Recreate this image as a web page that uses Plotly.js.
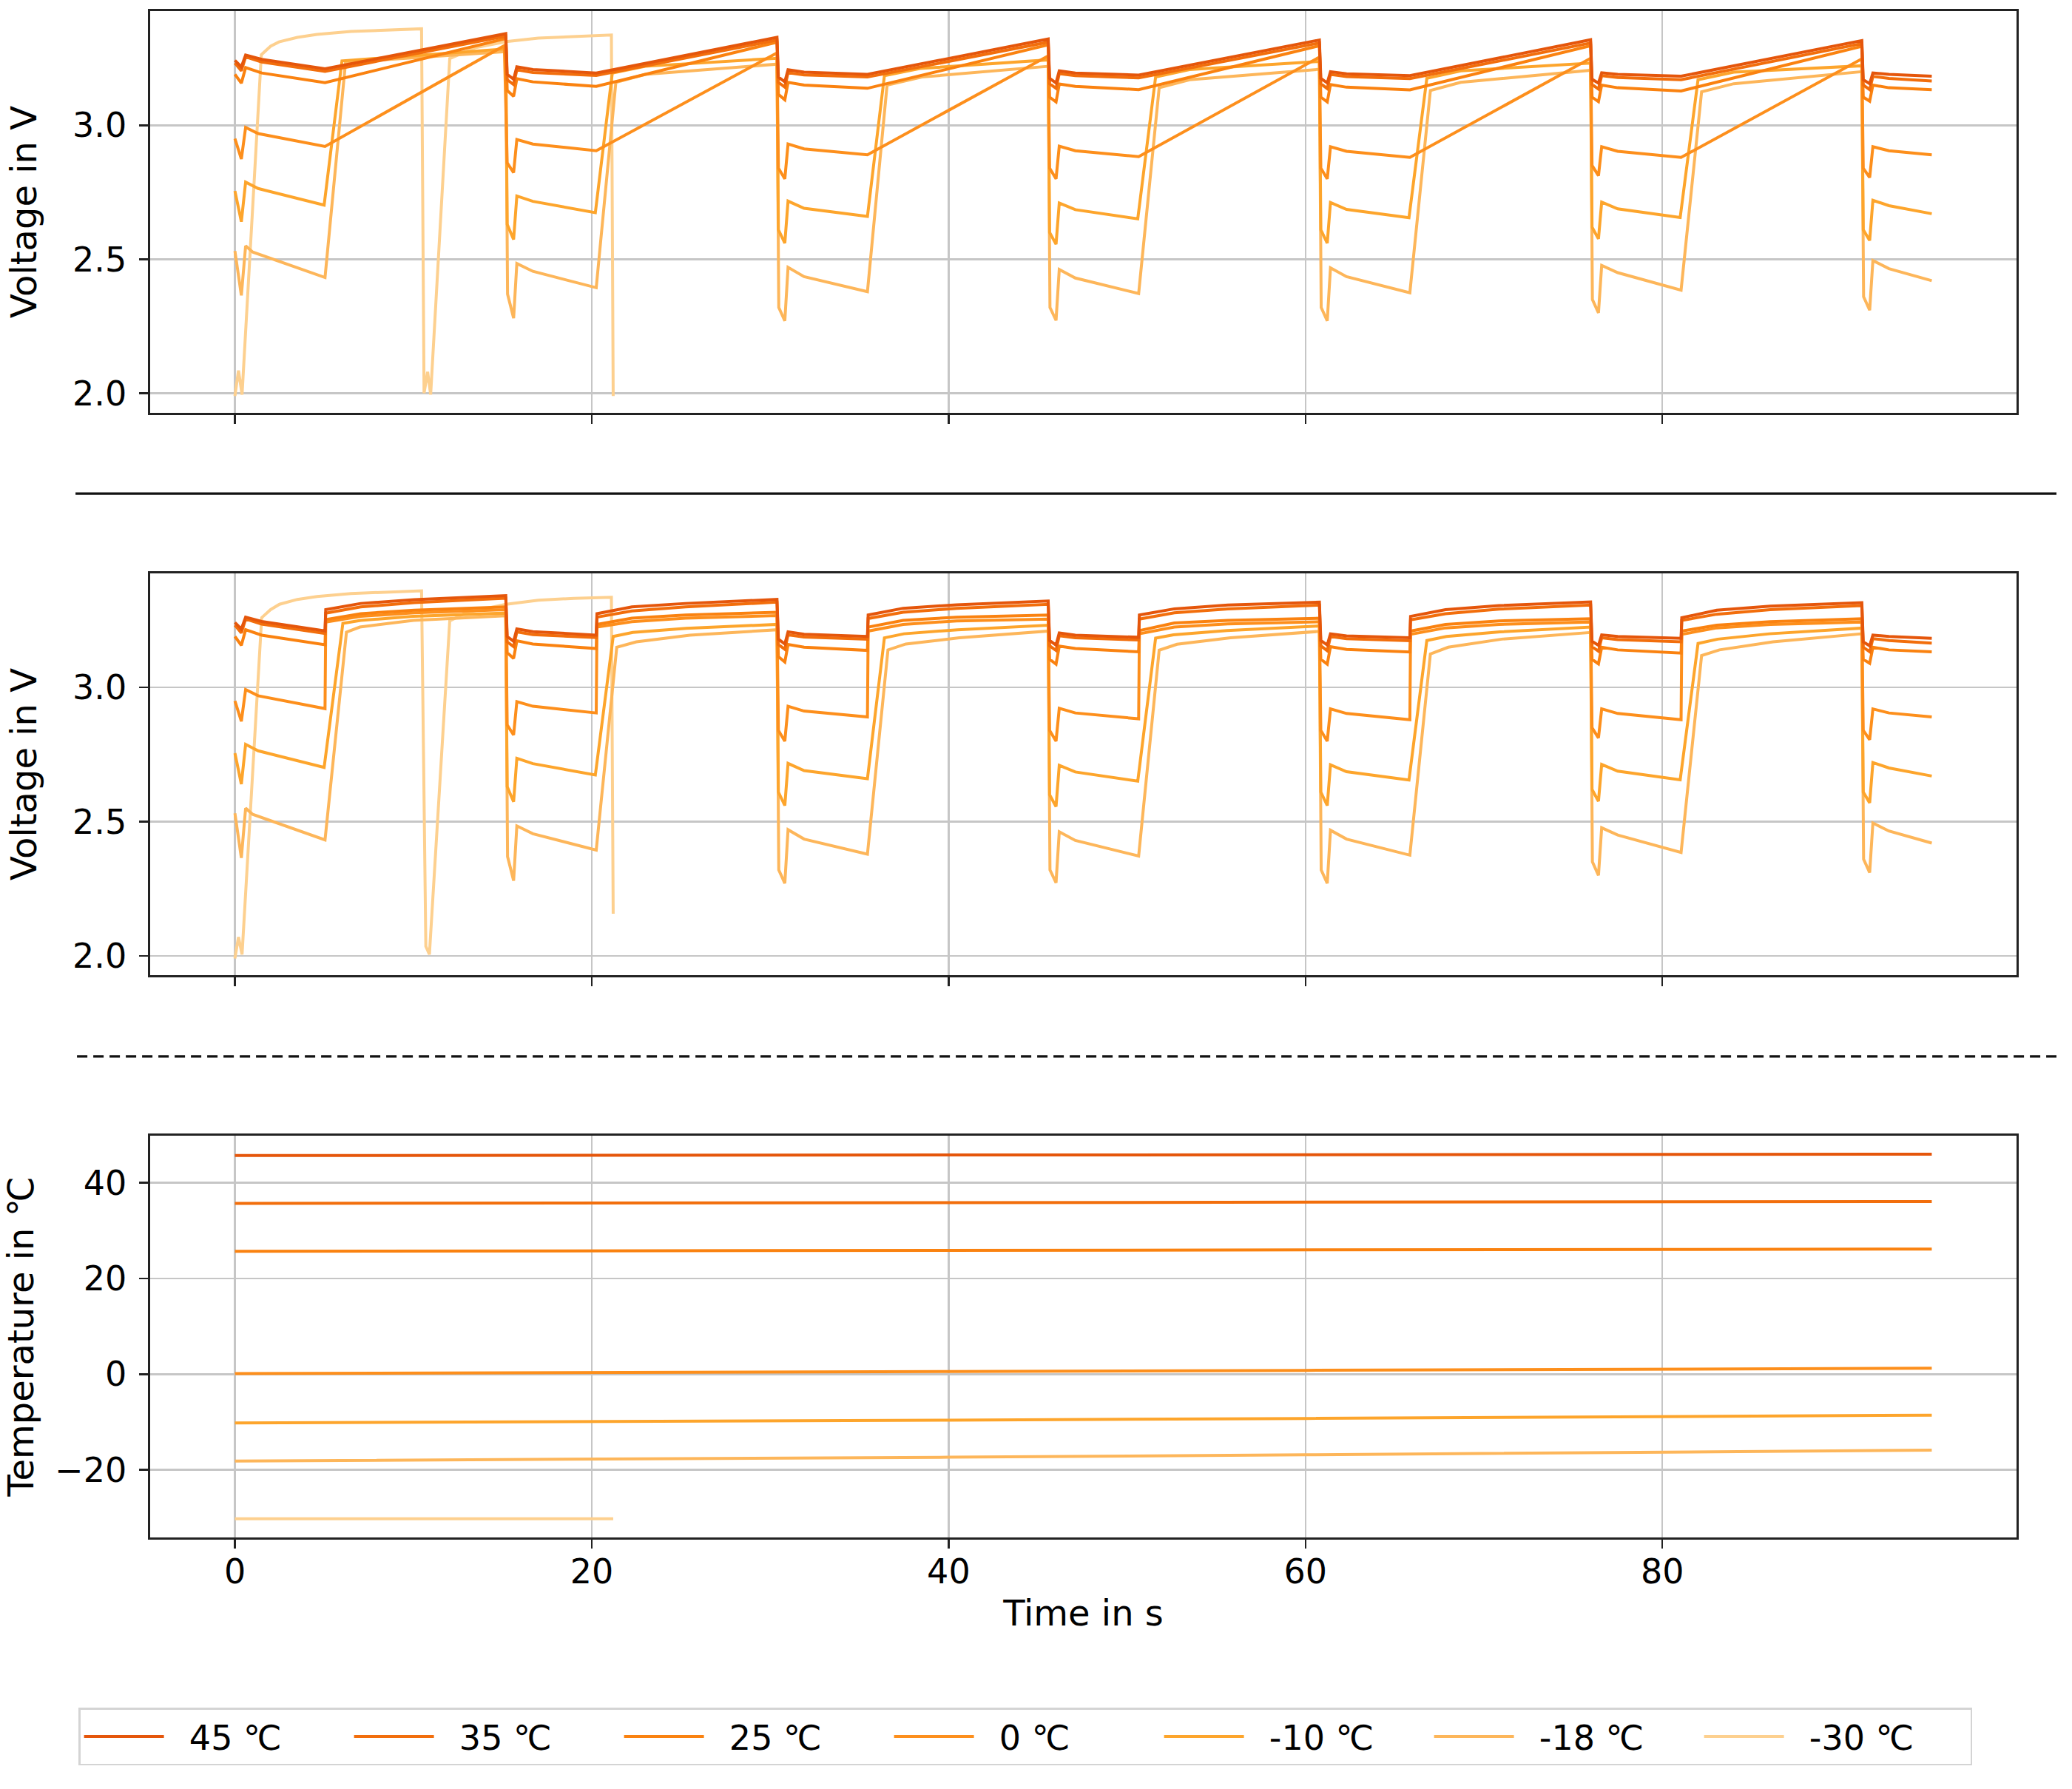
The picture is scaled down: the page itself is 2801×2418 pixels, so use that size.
<!DOCTYPE html>
<html>
<head>
<meta charset="utf-8">
<script src="https://cdn.plot.ly/plotly-3.0.1.min.js"></script>
<style>html,body{margin:0;padding:0;background:#fff;}#chart{width:2801px;height:2418px;}</style>
</head>
<body>
<div id="chart"></div>
<script>
// ---------------- DATA ----------------
const seriesNames = ["45 ℃", "35 ℃", "25 ℃", "0 ℃", "-10 ℃", "-18 ℃", "-30 ℃"];
const seriesColors = ["#e5560b", "#f26e0c", "#fa8210", "#fd8f1c", "#fda52c", "#fdb65a", "#fdd08f"];

// discharge segments (one per pulse cycle), [time s, voltage V]
const dis45 = [
  [[0,3.242],[0.36,3.218],[0.6,3.262],[1.5,3.246],[5.05,3.211]],
  [[15.26,3.19],[15.62,3.172],[15.8,3.218],[16.7,3.208],[20.25,3.195]],
  [[30.46,3.18],[30.82,3.162],[31.0,3.207],[31.9,3.198],[35.45,3.19]],
  [[45.66,3.175],[46.02,3.158],[46.2,3.203],[47.1,3.195],[50.65,3.187]],
  [[60.86,3.175],[61.22,3.158],[61.4,3.2],[62.3,3.192],[65.85,3.185]],
  [[76.06,3.172],[76.42,3.157],[76.6,3.196],[77.5,3.19],[81.05,3.183]],
  [[91.26,3.17],[91.62,3.155],[91.8,3.195],[92.7,3.19],[95.1,3.183]]
];
const dis35 = [
  [[0,3.232],[0.36,3.203],[0.6,3.255],[1.5,3.236],[5.05,3.201]],
  [[15.26,3.17],[15.62,3.152],[15.8,3.207],[16.7,3.197],[20.25,3.186]],
  [[30.46,3.16],[30.82,3.142],[31.0,3.196],[31.9,3.188],[35.45,3.18]],
  [[45.66,3.155],[46.02,3.138],[46.2,3.193],[47.1,3.185],[50.65,3.177]],
  [[60.86,3.155],[61.22,3.137],[61.4,3.19],[62.3,3.182],[65.85,3.174]],
  [[76.06,3.152],[76.42,3.135],[76.6,3.185],[77.5,3.178],[81.05,3.17]],
  [[91.26,3.15],[91.62,3.133],[91.8,3.182],[92.7,3.175],[95.1,3.165]]
];
const dis25 = [
  [[0,3.19],[0.36,3.157],[0.6,3.215],[1.5,3.195],[5.05,3.159]],
  [[15.26,3.13],[15.62,3.108],[15.8,3.174],[16.7,3.162],[20.25,3.145]],
  [[30.46,3.115],[30.82,3.095],[31.0,3.16],[31.9,3.15],[35.45,3.138]],
  [[45.66,3.105],[46.02,3.087],[46.2,3.154],[47.1,3.145],[50.65,3.133]],
  [[60.86,3.105],[61.22,3.087],[61.4,3.152],[62.3,3.142],[65.85,3.132]],
  [[76.06,3.105],[76.42,3.088],[76.6,3.15],[77.5,3.14],[81.05,3.128]],
  [[91.26,3.105],[91.62,3.09],[91.8,3.15],[92.7,3.14],[95.1,3.133]]
];
const dis0 = [
  [[0,2.95],[0.36,2.874],[0.6,2.992],[1.3,2.969],[5.05,2.921]],
  [[15.26,2.86],[15.62,2.823],[15.8,2.947],[16.7,2.93],[20.25,2.905]],
  [[30.46,2.84],[30.82,2.80],[31.0,2.93],[31.9,2.912],[35.45,2.89]],
  [[45.66,2.84],[46.02,2.80],[46.2,2.922],[47.1,2.905],[50.65,2.883]],
  [[60.86,2.84],[61.22,2.80],[61.4,2.92],[62.3,2.903],[65.85,2.88]],
  [[76.06,2.85],[76.42,2.812],[76.6,2.92],[77.5,2.903],[81.05,2.88]],
  [[91.26,2.84],[91.62,2.805],[91.8,2.92],[92.7,2.905],[95.1,2.89]]
];
const disM10 = [
  [[0,2.755],[0.36,2.64],[0.6,2.788],[1.3,2.764],[5.0,2.702]],
  [[15.26,2.63],[15.62,2.574],[15.8,2.736],[16.7,2.716],[20.2,2.674]],
  [[30.46,2.61],[30.82,2.56],[31.0,2.717],[31.9,2.69],[35.45,2.66]],
  [[45.66,2.60],[46.02,2.556],[46.2,2.71],[47.1,2.685],[50.6,2.651]],
  [[60.86,2.61],[61.22,2.56],[61.4,2.712],[62.3,2.686],[65.8,2.655]],
  [[76.06,2.62],[76.42,2.576],[76.6,2.713],[77.5,2.688],[81.0,2.656]],
  [[91.26,2.61],[91.62,2.57],[91.8,2.72],[92.7,2.70],[95.1,2.67]]
];
const disM18 = [
  [[0,2.531],[0.36,2.365],[0.6,2.55],[1.0,2.527],[5.05,2.432]],
  [[15.28,2.37],[15.62,2.28],[15.8,2.484],[16.7,2.455],[20.25,2.394]],
  [[30.48,2.32],[30.82,2.27],[31.0,2.47],[31.9,2.435],[35.45,2.379]],
  [[45.68,2.32],[46.02,2.272],[46.2,2.462],[47.1,2.43],[50.65,2.372]],
  [[60.88,2.32],[61.22,2.27],[61.4,2.468],[62.3,2.435],[65.85,2.375]],
  [[76.08,2.35],[76.42,2.30],[76.6,2.477],[77.5,2.45],[81.05,2.385]],
  [[91.28,2.36],[91.62,2.31],[91.8,2.495],[92.7,2.465],[95.1,2.42]]
];

// charge segments, upper panel (after each discharge, ending at the next peak)
const chgTop45 = [[[15.18,3.342]],[[30.38,3.328]],[[45.58,3.322]],[[60.78,3.318]],[[75.98,3.319]],[[91.18,3.316]]];
const chgTop35 = [[[15.18,3.333]],[[30.38,3.318]],[[45.58,3.31]],[[60.78,3.307]],[[75.98,3.307]],[[91.18,3.305]]];
const chgTop25 = [[[15.18,3.324]],[[30.38,3.31]],[[45.58,3.30]],[[60.78,3.297]],[[75.98,3.297]],[[91.18,3.295]]];
const chgTop0  = [[[15.1,3.297]],[[30.38,3.27]],[[45.58,3.259]],[[60.78,3.254]],[[75.98,3.25]],[[91.18,3.248]]];
const chgTopM10 = [
  [[6.0,3.24],[15.18,3.285]],
  [[21.15,3.195],[23.0,3.22],[30.38,3.25]],
  [[36.4,3.185],[38.4,3.212],[45.58,3.244]],
  [[51.6,3.18],[53.5,3.208],[60.78,3.238]],
  [[66.8,3.175],[68.7,3.203],[75.98,3.232]],
  [[82.0,3.17],[84.0,3.198],[91.18,3.222]]
];
const chgTopM18 = [
  [[6.2,3.235],[15.18,3.275]],
  [[21.35,3.16],[23.0,3.19],[30.38,3.228]],
  [[36.55,3.15],[38.5,3.18],[45.58,3.22]],
  [[51.8,3.14],[53.5,3.17],[60.78,3.209]],
  [[67.0,3.13],[68.7,3.16],[75.98,3.205]],
  [[82.2,3.125],[84.0,3.155],[91.18,3.20]]
];

// charge segments, middle panel
const chgMid45 = [
  [[5.09,3.29],[7.05,3.313],[10.05,3.327],[15.18,3.342]],
  [[20.29,3.275],[22.25,3.30],[25.25,3.313],[30.38,3.328]],
  [[35.49,3.27],[37.45,3.295],[40.45,3.308],[45.58,3.322]],
  [[50.69,3.27],[52.65,3.293],[55.65,3.307],[60.78,3.318]],
  [[65.89,3.265],[67.85,3.29],[70.85,3.305],[75.98,3.319]],
  [[81.09,3.26],[83.05,3.288],[86.05,3.303],[91.18,3.316]]
];
const chgMid35 = [
  [[5.09,3.277],[7.05,3.30],[10.05,3.316],[15.18,3.333]],
  [[20.29,3.262],[22.25,3.285],[25.25,3.30],[30.38,3.318]],
  [[35.49,3.257],[37.45,3.28],[40.45,3.295],[45.58,3.31]],
  [[50.69,3.255],[52.65,3.278],[55.65,3.293],[60.78,3.307]],
  [[65.89,3.252],[67.85,3.275],[70.85,3.292],[75.98,3.307]],
  [[81.09,3.25],[83.05,3.273],[86.05,3.29],[91.18,3.305]]
];
const chgMid25 = [
  [[5.09,3.253],[7.05,3.275],[10.05,3.288],[15.18,3.30]],
  [[20.29,3.235],[22.25,3.258],[25.25,3.27],[30.38,3.28]],
  [[35.49,3.225],[37.45,3.25],[40.45,3.262],[45.58,3.27]],
  [[50.69,3.212],[52.65,3.24],[55.65,3.25],[60.78,3.258]],
  [[65.89,3.21],[67.85,3.235],[70.85,3.248],[75.98,3.256]],
  [[81.09,3.21],[83.05,3.232],[86.05,3.245],[91.18,3.256]]
];
const chgMid0 = [
  [[5.09,3.244],[7.05,3.265],[10.05,3.278],[15.18,3.29]],
  [[20.29,3.225],[22.25,3.245],[25.25,3.258],[30.38,3.268]],
  [[35.49,3.21],[37.45,3.235],[40.45,3.248],[45.58,3.255]],
  [[50.69,3.20],[52.65,3.225],[55.65,3.237],[60.78,3.245]],
  [[65.89,3.198],[67.85,3.222],[70.85,3.235],[75.98,3.244]],
  [[81.09,3.198],[83.05,3.222],[86.05,3.235],[91.18,3.244]]
];
const chgMidM10 = [
  [[6.05,3.239],[7.05,3.25],[10.0,3.265],[15.18,3.277]],
  [[21.2,3.19],[22.3,3.205],[25.3,3.22],[30.38,3.235]],
  [[36.4,3.185],[37.5,3.2],[40.5,3.215],[45.58,3.232]],
  [[51.6,3.184],[52.6,3.196],[55.6,3.212],[60.78,3.229]],
  [[66.8,3.175],[67.9,3.19],[70.9,3.207],[75.98,3.225]],
  [[82.0,3.164],[83.1,3.18],[86.0,3.2],[91.18,3.221]]
];
const chgMidM18 = [
  [[6.25,3.206],[7.0,3.225],[10.0,3.25],[15.18,3.267]],
  [[21.4,3.15],[22.5,3.17],[25.5,3.195],[30.38,3.215]],
  [[36.6,3.14],[37.6,3.162],[40.6,3.185],[45.58,3.21]],
  [[51.8,3.139],[52.8,3.161],[55.8,3.185],[60.78,3.209]],
  [[67.0,3.125],[68.0,3.15],[71.0,3.18],[75.98,3.205]],
  [[82.2,3.119],[83.2,3.14],[86.2,3.17],[91.18,3.20]]
];

// -30 ℃ runs only until cut-off
const topM30 = [[0,1.99],[0.2,2.085],[0.4,1.995],[1.48,3.263],[2.0,3.295],[2.47,3.311],[3.5,3.328],[4.6,3.339],[6.5,3.35],[8.16,3.355],[10.46,3.36],[10.6,2.0],[10.8,2.08],[10.97,1.995],[12.04,3.249],[13.5,3.29],[15.2,3.312],[17.0,3.325],[19.0,3.332],[21.1,3.337],[21.2,1.99]];
const midM30 = [[0,1.99],[0.2,2.07],[0.4,2.005],[1.5,3.26],[2.0,3.29],[2.5,3.31],[3.5,3.328],[4.6,3.339],[6.5,3.35],[8.2,3.355],[10.46,3.36],[10.7,2.035],[10.9,2.005],[12.04,3.248],[13.0,3.28],[15.2,3.31],[17.0,3.325],[19.0,3.332],[21.1,3.336],[21.2,2.157]];

// temperatures, [time s, temperature ℃]
const temp45 = [[0,45.66],[20,45.7],[40,45.75],[60,45.82],[80,45.88],[95.1,45.93]];
const temp35 = [[0,35.66],[20,35.72],[40,35.82],[60,35.9],[80,36.0],[95.1,36.07]];
const temp25 = [[0,25.66],[20,25.72],[40,25.8],[60,25.92],[80,26.05],[95.1,26.14]];
const temp0  = [[0,0.14],[20,0.3],[40,0.55],[60,0.8],[80,1.05],[95.1,1.24]];
const tempM10 = [[0,-10.2],[20,-9.95],[40,-9.6],[60,-9.25],[80,-8.85],[95.1,-8.55]];
const tempM18 = [[0,-18.14],[20,-17.8],[40,-17.35],[60,-16.85],[80,-16.3],[95.1,-15.86]];
const tempM30 = [[0,-30.2],[21.2,-30.2]];

const xTicks = [0, 20, 40, 60, 80];

// ---------------- BUILD ----------------
function join(dis, chg) {
  const pts = [];
  dis.forEach((seg, k) => { pts.push(...seg); if (chg[k]) pts.push(...chg[k]); });
  return pts;
}
const topSeries = [
  join(dis45, chgTop45), join(dis35, chgTop35), join(dis25, chgTop25), join(dis0, chgTop0),
  join(disM10, chgTopM10), join(disM18, chgTopM18), topM30
];
const midSeries = [
  join(dis45, chgMid45), join(dis35, chgMid35), join(dis25, chgMid25), join(dis0, chgMid0),
  join(disM10, chgMidM10), join(disM18, chgMidM18), midM30
];
const tempSeries = [temp45, temp35, temp25, temp0, tempM10, tempM18, tempM30];

const LW = 4;
const NB = '\u00a0\u00a0';
const traces = [];
for (let i = seriesNames.length - 1; i >= 0; i--) {
  const c = seriesColors[i];
  const nm = NB + seriesNames[i];
  traces.push({x: topSeries[i].map(p => p[0]), y: topSeries[i].map(p => p[1]), xaxis: 'x', yaxis: 'y',
    mode: 'lines', line: {color: c, width: LW}, name: nm, legendgroup: seriesNames[i],
    showlegend: true, legendrank: i + 1, hoverinfo: 'skip'});
  traces.push({x: midSeries[i].map(p => p[0]), y: midSeries[i].map(p => p[1]), xaxis: 'x2', yaxis: 'y2',
    mode: 'lines', line: {color: c, width: LW}, name: nm, legendgroup: seriesNames[i],
    showlegend: false, hoverinfo: 'skip'});
  traces.push({x: tempSeries[i].map(p => p[0]), y: tempSeries[i].map(p => p[1]), xaxis: 'x3', yaxis: 'y3',
    mode: 'lines', line: {color: c, width: LW}, name: nm, legendgroup: seriesNames[i],
    showlegend: false, hoverinfo: 'skip'});
}

const FONT = 'DejaVu Sans, sans-serif';
const AX = {
  range: [-4.75, 99.85], tickvals: xTicks, ticks: 'outside', ticklen: 12, tickwidth: 2.5, tickcolor: '#222',
  showgrid: true, gridcolor: '#c6c6c6', gridwidth: 2.5, showline: true, mirror: true,
  linecolor: '#222', linewidth: 2.6, zeroline: false, fixedrange: true,
  tickfont: {family: FONT, size: 46, color: '#000'}
};
const AY = {
  ticks: 'outside', ticklen: 12, tickwidth: 2.5, tickcolor: '#222',
  showgrid: true, gridcolor: '#c6c6c6', gridwidth: 2.5, showline: true, mirror: true,
  linecolor: '#222', linewidth: 2.6, zeroline: false, fixedrange: true,
  tickfont: {family: FONT, size: 46, color: '#000'}, ticklabelstandoff: 8
};

const layout = {
  width: 2801, height: 2418,
  margin: {l: 203, r: 75, t: 15, b: 340},
  paper_bgcolor: '#fff', plot_bgcolor: '#fff',
  font: {family: FONT, size: 46, color: '#000'},
  showlegend: true,
  xaxis: Object.assign({}, AX, {anchor: 'y', showticklabels: false}),
  xaxis2: Object.assign({}, AX, {anchor: 'y2', showticklabels: false}),
  xaxis3: Object.assign({}, AX, {anchor: 'y3', showticklabels: true, ticklabelstandoff: -8,
    title: {text: 'Time in s', font: {family: FONT, size: 48, color: '#000'}, standoff: 14}}),
  yaxis: Object.assign({}, AY, {anchor: 'x', domain: [0.7368, 1], range: [1.927, 3.426],
    tickvals: [2.0, 2.5, 3.0], tickformat: '.1f',
    title: {text: 'Voltage in V', font: {family: FONT, size: 48, color: '#000'}, standoff: 34}}),
  yaxis2: Object.assign({}, AY, {anchor: 'x2', domain: [0.3684, 0.6316], range: [1.928, 3.425],
    tickvals: [2.0, 2.5, 3.0], tickformat: '.1f',
    title: {text: 'Voltage in V', font: {family: FONT, size: 48, color: '#000'}, standoff: 34}}),
  yaxis3: Object.assign({}, AY, {anchor: 'x3', domain: [0, 0.2632], range: [-34.1, 49.8],
    tickvals: [-20, 0, 20, 40],
    title: {text: 'Temperature in ℃', font: {family: FONT, size: 48, color: '#000'}, standoff: 34}}),
  legend: {
    orientation: 'h', x: -0.0384, y: -0.1115, xanchor: 'left', yanchor: 'top',
    bgcolor: '#fff', bordercolor: '#d4d4d4', borderwidth: 2.5,
    font: {family: FONT, size: 46, color: '#000'},
    itemwidth: 108, entrywidth: 242, entrywidthmode: 'pixels', traceorder: 'normal',
    itemclick: false, itemdoubleclick: false
  },
  shapes: [
    {type: 'line', xref: 'paper', yref: 'paper', x0: -0.040, x1: 1.0214, y0: 0.6839, y1: 0.6839,
      line: {color: '#111', width: 3.2}},
    {type: 'line', xref: 'paper', yref: 'paper', x0: -0.0392, x1: 1.0214, y0: 0.3151, y1: 0.3151,
      line: {color: '#111', width: 3.2, dash: '14px,8px'}}
  ]
};

Plotly.newPlot('chart', traces, layout, {staticPlot: true, displayModeBar: false});
</script>
</body>
</html>
